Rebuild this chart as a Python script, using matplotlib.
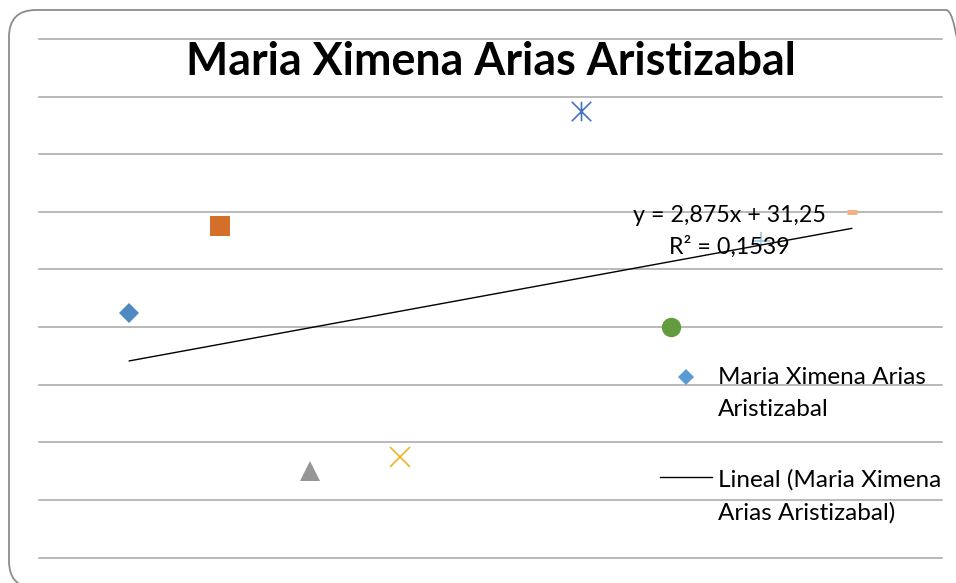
import numpy as np
import matplotlib
matplotlib.use("Agg")
import matplotlib.pyplot as plt
from matplotlib.lines import Line2D
from matplotlib.patches import FancyBboxPatch
from matplotlib.path import Path
from matplotlib.transforms import IdentityTransform

# ---- data ----
title = "Maria Ximena Arias Aristizabal"
x_vals = [1, 2, 3, 4, 6, 7, 8, 9]
y_vals = [42.5, 57.5, 15, 17.5, 77.5, 40, 55, 60]
legend_series = ["Maria Ximena Arias", "Aristizabal"]
legend_trend = ["Lineal (Maria Ximena", "Arias Aristizabal)"]
y_ticks = list(range(0, 100, 10))

W, H = 956, 583
fig = plt.figure(figsize=(W / 100, H / 100), dpi=100)
fig.patch.set_facecolor("white")

def fx(px):
    return px / W

def fy(py):
    return 1 - py / H

ax = fig.add_axes([fx(39), fy(557.5), fx(942) - fx(39), fy(39) - fy(557.5)])
ax.set_xlim(0, 10)
ax.set_ylim(0, 90)
for s in ax.spines.values():
    s.set_visible(False)
ax.set_yticks(y_ticks)
ax.set_xticks([])
ax.tick_params(left=False, labelleft=False, bottom=False, labelbottom=False)
ax.yaxis.grid(True, color="#A6A6A6", linewidth=1.1)
ax.set_axisbelow(True)
for gl in ax.get_ygridlines():
    gl.set_clip_on(False)

# asterisk marker: X plus vertical bar
ast = Path([(-0.5, -0.5), (0.5, 0.5), (-0.5, 0.5), (0.5, -0.5), (0, -0.5), (0, 0.5)],
           [Path.MOVETO, Path.LINETO, Path.MOVETO, Path.LINETO, Path.MOVETO, Path.LINETO])

styles = [
    dict(marker="D", ms=10.2, color="#4F89C2"),
    dict(marker="s", ms=14.2, color="#D46F2B"),
    dict(marker="^", ms=14.4, color="#969696"),
    dict(marker="x", ms=14.4, color="#EFB521", mew=1.2),
    dict(marker=ast, ms=14.0, color="#4472C4", mew=1.2),
    dict(marker="o", ms=14.0, color="#629C3F"),
    dict(marker="+", ms=13.0, color="#9DC3E6", mew=1.2),
    dict(marker="_", ms=7.4, color="#F4B183", mew=3.6),
]
for xv, yv, st in zip(x_vals, y_vals, styles):
    ax.plot([xv], [yv], linestyle="none", marker=st["marker"], markersize=st["ms"],
            color=st["color"], markeredgewidth=st.get("mew", 0), zorder=3)

# trendline
slope, intercept = np.polyfit(x_vals, y_vals, 1)
xt = np.array([min(x_vals), max(x_vals)])
ax.plot(xt, slope * xt + intercept, color="black", linewidth=1.0, zorder=4)
pred = slope * np.array(x_vals) + intercept
r2 = 1 - np.sum((np.array(y_vals) - pred) ** 2) / np.sum((np.array(y_vals) - np.mean(y_vals)) ** 2)

def fmt(v, d):
    return f"{v:.{d}f}".replace(".", ",")

eq1 = f"y = {fmt(slope, 3)}x + {fmt(intercept, 2)}"
eq2 = f"R² = {fmt(r2, 4)}"

renderer = fig.canvas.get_renderer()

def fit(t, target):
    w = t.get_window_extent(renderer).width
    t.set_fontsize(t.get_fontsize() * target / w)
    return t.get_fontsize()

FONT = "Lato"

t_title = fig.text(fx(491), fy(74.5), title, ha="center", va="baseline",
                   fontsize=30, fontweight="bold", family=FONT)
fit(t_title, 609)

e1 = fig.text(fx(729), fy(222.5), eq1, ha="center", va="baseline", fontsize=16, family=FONT, zorder=5)
fs_eq = fit(e1, 193)
e2 = fig.text(fx(729), fy(253.5), eq2, ha="center", va="baseline", fontsize=fs_eq, family=FONT, zorder=5)

# legend (manual layout)
l1 = fig.text(fx(718), fy(383.5), legend_series[0], ha="left", va="baseline", fontsize=16, family=FONT)
fs_lg = fit(l1, 209)
fig.text(fx(718), fy(415.5), legend_series[1], ha="left", va="baseline", fontsize=fs_lg, family=FONT)
fig.text(fx(718), fy(486.5), legend_trend[0], ha="left", va="baseline", fontsize=fs_lg, family=FONT)
fig.text(fx(718), fy(519.5), legend_trend[1], ha="left", va="baseline", fontsize=fs_lg, family=FONT)
fig.add_artist(Line2D([fx(686)], [fy(376.7)], marker="D", markersize=8.5,
                      color="#5B9BD5", markeredgewidth=0, linestyle="none"))
fig.add_artist(Line2D([fx(660), fx(712)], [fy(477), fy(477)], color="black", linewidth=1.0))

# rounded chart border
border = FancyBboxPatch((9, -5), 964, 578, boxstyle="round,pad=0,rounding_size=27",
                        transform=IdentityTransform(), facecolor="none",
                        edgecolor="#8C8C8C", linewidth=1.3)
fig.add_artist(border)

fig.savefig("out.png", dpi=100, facecolor="white")
